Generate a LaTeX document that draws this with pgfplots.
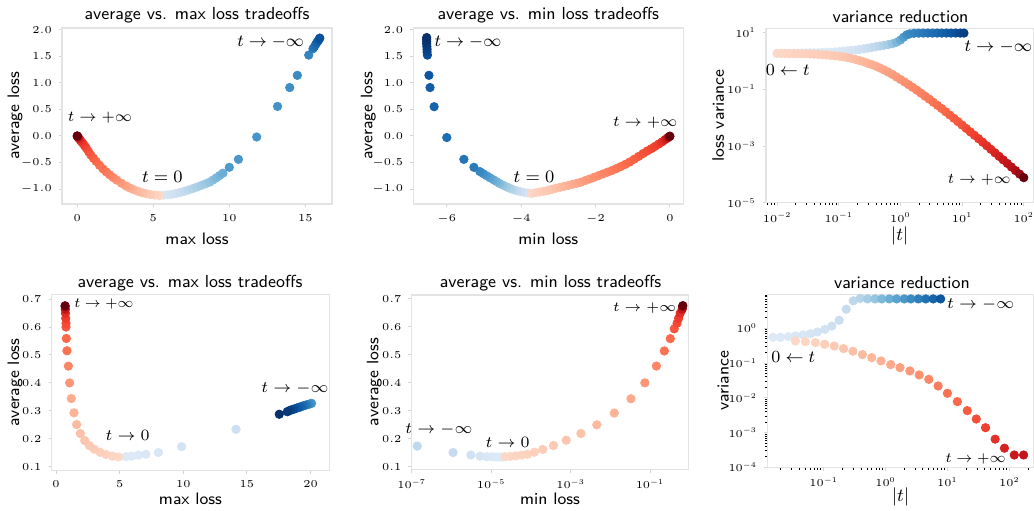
\RequirePackage{fix-cm}
\documentclass[border=0pt]{standalone}
\usepackage{pgfplots}
\usepackage{pgfplotstable}
\pgfplotsset{compat=1.18}

% one colormap: 0..7 Blues (dark -> light), 8..15 Reds (light -> dark)
\pgfplotsset{
  colormap={tilt}{rgb255=(8,48,107) rgb255=(8,81,156) rgb255=(33,113,181) rgb255=(66,146,198)
    rgb255=(107,174,214) rgb255=(158,202,225) rgb255=(198,219,239) rgb255=(221,234,246)
    rgb255=(253,216,199) rgb255=(252,187,161) rgb255=(252,146,114) rgb255=(251,106,74)
    rgb255=(239,59,44) rgb255=(203,24,29) rgb255=(165,15,21) rgb255=(103,0,13)},
  panel/.style={
    scale only axis, anchor=south west,
    colormap name=tilt, point meta min=0, point meta max=15,
    axis line style={draw=gray!22, line width=0.6pt},
    tick align=outside, tick pos=left,
    major tick length=1.6pt, minor tick length=1.1pt,
    major tick style={draw=gray!35, line width=0.5pt},
    minor tick style={draw=black, line width=0.4pt},
    tick label style={font=\fontsize{5.3}{6}\selectfont},
    every axis label/.append style={font=\sffamily\fontsize{8.3}{10}\selectfont},
    title style={font=\sffamily\fontsize{8.7}{10}\selectfont, anchor=center, yshift=-6pt},
  },
  onedec/.style={/pgf/number format/.cd, fixed, fixed zerofill, precision=1},
  dots/.style={scatter, only marks, mark=*, mark size=2.1pt, point meta=explicit,
    mark options={line width=0.4pt},
    scatter/use mapped color={draw=mapped color, fill=mapped color}},
}

% ---------------- panel 1: average vs max loss
\pgfplotstableread{
x y m
5.40 -1.120 8.0
5.10 -1.112 8.2
4.80 -1.100 8.4
4.55 -1.087 8.6
4.30 -1.070 8.8
4.00 -1.042 9.0
3.70 -1.010 9.2
3.45 -0.977 9.4
3.20 -0.940 9.6
2.90 -0.888 9.8
2.60 -0.830 10.0
2.36 -0.782 10.2
2.13 -0.730 10.4
1.91 -0.677 10.55
1.70 -0.620 10.7
1.47 -0.552 10.85
1.25 -0.480 11.0
1.07 -0.421 11.15
0.90 -0.360 11.3
0.75 -0.297 11.45
0.60 -0.230 11.6
0.50 -0.190 11.75
0.40 -0.150 11.9
0.30 -0.115 12.1
0.20 -0.080 12.3
0.12 -0.050 12.7
0.06 -0.025 13.3
0.03 -0.012 14.0
0.01 -0.004 14.6
0.00 0.000 15.0
}\tabAr
\pgfplotstableread{
x y m
5.41 -1.120 7.0
5.68 -1.115 6.85
5.95 -1.108 6.7
6.22 -1.097 6.55
6.50 -1.080 6.4
6.78 -1.062 6.2
7.05 -1.040 6.0
7.32 -1.016 5.8
7.60 -0.990 5.6
7.88 -0.962 5.4
8.15 -0.932 5.2
8.42 -0.902 5.0
8.70 -0.870 4.8
8.92 -0.830 4.6
9.14 -0.790 4.4
9.36 -0.745 4.2
9.58 -0.700 4.0
10.00 -0.590 3.3
10.60 -0.440 3.2
11.80 -0.020 3.1
13.17 0.555 3.0
13.97 0.910 2.9
14.47 1.140 2.8
15.22 1.520 2.6
15.50 1.640 2.2
15.60 1.680 2.0
15.68 1.720 1.8
15.76 1.760 1.6
15.84 1.790 1.4
15.90 1.820 1.2
15.95 1.840 1.0
}\tabAb

% ---------------- panel 2: average vs min loss
\pgfplotstableread{
x y m
-3.72 -1.080 8.0
-3.61 -1.067 8.13
-3.50 -1.054 8.27
-3.39 -1.040 8.4
-3.28 -1.023 8.53
-3.17 -1.004 8.67
-3.06 -0.982 8.8
-2.95 -0.965 8.93
-2.84 -0.947 9.07
-2.73 -0.930 9.2
-2.62 -0.910 9.33
-2.51 -0.891 9.47
-2.40 -0.870 9.6
-2.28 -0.840 9.73
-2.16 -0.810 9.87
-2.04 -0.778 10.0
-1.92 -0.747 10.13
-1.80 -0.714 10.27
-1.68 -0.682 10.4
-1.56 -0.650 10.53
-1.44 -0.615 10.67
-1.32 -0.576 10.8
-1.20 -0.535 10.93
-1.08 -0.490 11.07
-0.96 -0.438 11.2
-0.84 -0.385 11.33
-0.72 -0.330 11.47
-0.61 -0.282 11.6
-0.50 -0.240 11.73
-0.40 -0.197 11.87
-0.30 -0.152 12.0
-0.21 -0.112 12.3
-0.13 -0.070 12.7
-0.07 -0.040 13.2
-0.03 -0.020 13.8
-0.01 -0.010 14.4
0.00 -0.005 15.0
}\tabBr
\pgfplotstableread{
x y m
-3.72 -1.080 7.0
-3.82 -1.072 6.8
-3.92 -1.062 6.6
-4.02 -1.048 6.3
-4.12 -1.030 6.0
-4.22 -1.008 5.7
-4.31 -0.983 5.4
-4.40 -0.955 5.1
-4.49 -0.925 4.8
-4.58 -0.893 4.5
-4.66 -0.860 4.2
-4.75 -0.822 3.9
-4.84 -0.785 3.6
-4.93 -0.748 3.3
-5.02 -0.710 3.0
-5.11 -0.670 2.7
-5.27 -0.590 2.3
-5.54 -0.440 2.1
-6.00 -0.030 1.9
-6.34 0.550 1.6
-6.45 0.910 1.4
-6.48 1.140 1.2
-6.52 1.520 0.9
-6.53 1.580 0.7
-6.53 1.630 0.55
-6.535 1.680 0.4
-6.54 1.730 0.3
-6.54 1.770 0.2
-6.54 1.810 0.1
-6.54 1.850 0.0
}\tabBb

% ---------------- panel 3: loss variance vs |t|
\pgfplotstableread{
t v m
0.01 1.862 8.0
0.01166 1.858 8.03
0.01359 1.854 8.07
0.01585 1.845 8.1
0.01848 1.837 8.13
0.02154 1.824 8.17
0.02512 1.811 8.2
0.02929 1.799 8.23
0.03415 1.778 8.27
0.03981 1.750 8.3
0.04642 1.718 8.33
0.05412 1.679 8.37
0.06310 1.633 8.4
0.07356 1.581 8.43
0.08577 1.531 8.47
0.1 1.479 8.5
0.1166 1.406 8.59
0.1359 1.324 8.69
0.1585 1.236 8.78
0.1848 1.143 8.87
0.2154 1.042 8.97
0.2512 0.940 9.06
0.2929 0.841 9.15
0.3415 0.750 9.25
0.3981 0.661 9.34
0.4642 0.569 9.43
0.5412 0.484 9.53
0.6310 0.407 9.62
0.7356 0.339 9.71
0.8577 0.275 9.81
1 0.224 9.9
1.166 0.182 10.0
1.359 0.146 10.1
1.585 0.1175 10.2
1.848 0.0933 10.3
2.154 0.0733 10.4
2.512 0.0575 10.5
2.929 0.0452 10.6
3.415 0.0351 10.75
3.981 0.0272 10.85
4.642 0.02113 10.95
5.412 0.01622 11.05
6.310 0.01245 11.15
7.356 0.00955 11.25
8.577 0.00724 11.35
10 0.00550 11.5
11.66 0.00417 11.63
13.59 0.00316 11.77
15.85 0.00240 11.9
18.48 0.00182 12.03
21.54 0.001365 12.17
25.12 0.001023 12.3
29.29 7.67e-4 12.43
34.15 5.75e-4 12.6
39.81 4.32e-4 12.8
46.42 3.24e-4 13.0
54.12 2.43e-4 13.25
63.10 1.82e-4 13.5
73.56 1.365e-4 13.8
85.77 1.023e-4 14.2
100 7.67e-5 15.0
}\tabCr
\pgfplotstableread{
t v m
0.01 1.862 7.0
0.01166 1.871 7.0
0.01359 1.879 7.0
0.01585 1.888 7.0
0.01848 1.897 7.0
0.02154 1.905 7.0
0.02512 1.919 7.0
0.02929 1.932 7.0
0.03415 1.945 7.0
0.03981 1.963 7.0
0.04642 1.982 6.98
0.05412 2.004 6.96
0.06310 2.028 6.94
0.07356 2.056 6.92
0.08577 2.089 6.9
0.1 2.138 6.85
0.1166 2.213 6.8
0.1359 2.291 6.75
0.1585 2.371 6.7
0.1848 2.455 6.6
0.2154 2.570 6.5
0.2512 2.692 6.4
0.2929 2.851 6.25
0.3415 3.020 6.1
0.3981 3.199 5.9
0.4642 3.388 5.7
0.5412 3.589 5.45
0.6310 3.802 5.2
0.7356 4.074 4.85
0.8577 4.571 4.4
1 5.495 3.9
1.122 6.918 3.4
1.259 8.318 3.0
1.413 9.120 2.8
1.660 9.55 2.6
1.972 9.66 2.45
2.344 9.7 2.3
2.786 9.7 2.1
3.311 9.7 1.95
3.936 9.7 1.8
4.677 9.7 1.6
5.559 9.7 1.4
6.607 9.7 1.2
7.852 9.7 1.0
9.333 9.7 0.75
10.72 9.7 0.5
}\tabCb

% ---------------- panel 4: average vs max loss (second setting)
\pgfplotstableread{
x y m
4.90 0.135 8.0
4.42 0.138 8.1
3.93 0.144 8.2
3.46 0.152 8.3
3.01 0.163 8.4
2.62 0.176 8.5
2.25 0.194 8.65
1.91 0.219 8.8
1.62 0.251 9.0
1.41 0.293 9.2
1.20 0.344 9.4
1.07 0.400 9.9
0.97 0.460 10.3
0.86 0.515 10.8
0.81 0.559 11.0
0.785 0.600 11.4
0.785 0.613 11.7
0.76 0.631 12.0
0.74 0.649 12.4
0.73 0.663 13.2
0.72 0.673 14.0
0.71 0.676 15.0
}\tabDr
\pgfplotstableread{
x y m
5.50 0.136 7.0
5.94 0.138 6.95
6.47 0.142 6.9
7.07 0.145 6.85
8.04 0.151 6.8
9.87 0.172 6.6
14.14 0.234 6.3
20.08 0.327 3.2
19.95 0.325 2.9
19.80 0.323 2.6
19.65 0.321 2.3
19.50 0.319 2.0
19.35 0.317 1.8
19.20 0.314 1.6
19.05 0.312 1.4
18.90 0.310 1.2
18.75 0.307 1.0
18.60 0.305 0.8
18.45 0.303 0.6
18.30 0.300 0.45
18.17 0.297 0.3
17.54 0.288 0.0
}\tabDb

% ---------------- panel 5: average vs min loss (second setting)
\pgfplotstableread{
x y m
2.24e-5 0.136 8.0
3.02e-5 0.137 8.05
4.17e-5 0.139 8.1
5.89e-5 0.142 8.15
8.32e-5 0.145 8.2
1.23e-4 0.152 8.3
2.0e-4 0.162 8.4
3.72e-4 0.176 8.5
7.76e-4 0.195 8.65
1.82e-3 0.219 8.8
4.57e-3 0.250 9.0
0.0126 0.292 9.2
0.0331 0.343 9.4
0.0741 0.400 9.9
0.145 0.460 10.3
0.229 0.514 10.8
0.324 0.558 11.0
0.407 0.593 11.4
0.479 0.613 11.7
0.525 0.631 12.0
0.575 0.649 12.4
0.646 0.663 13.2
0.661 0.673 14.0
0.670 0.676 15.0
}\tabEr
\pgfplotstableread{
x y m
1.95e-5 0.135 7.0
1.62e-5 0.135 7.0
1.35e-5 0.135 6.95
1.05e-5 0.136 6.9
7.76e-6 0.136 6.85
5.25e-6 0.138 6.7
3.09e-6 0.142 6.5
1.10e-6 0.151 6.0
1.38e-7 0.174 5.8
}\tabEb

% ---------------- panel 6: variance vs |t|
\pgfplotstableread{
t v m
0.0351 0.431 8.0
0.0507 0.413 8.1
0.0735 0.387 8.2
0.1038 0.347 8.35
0.1483 0.309 8.5
0.2099 0.260 8.65
0.2965 0.218 8.8
0.4236 0.175 8.95
0.5984 0.143 9.1
0.8453 0.115 9.25
1.211 0.090 9.45
1.710 0.0738 9.65
2.472 0.0592 9.85
3.491 0.0454 10.05
5.000 0.0340 10.3
7.063 0.0219 10.55
9.98 0.0135 10.8
14.45 0.00776 11.05
20.9 0.00427 11.3
29.2 0.00245 11.6
41.2 0.00138 11.9
58.9 6.46e-4 12.3
83.2 3.55e-4 12.7
120.2 2.26e-4 13.0
169.8 2.26e-4 13.2
}\tabFr
\pgfplotstableread{
t v m
0.0151 0.550 7.0
0.0200 0.550 6.95
0.0269 0.575 6.9
0.0351 0.603 6.85
0.0468 0.646 6.8
0.0617 0.700 6.7
0.0794 0.783 6.6
0.105 0.933 6.5
0.136 1.16 6.35
0.178 1.70 6.2
0.232 3.55 6.0
0.302 6.17 5.8
0.389 7.24 5.6
0.513 7.0 5.2
0.676 7.0 4.8
0.871 7.0 4.4
1.15 7.0 4.0
1.51 7.0 3.6
2.00 7.0 3.2
2.57 7.0 2.8
3.39 7.0 2.4
4.47 7.0 2.0
5.89 7.0 1.6
7.76 7.0 1.2
}\tabFb

\begin{document}
\begin{tikzpicture}
\path[use as bounding box] (0,0) rectangle (517pt,255pt);

% ---------- top left
\begin{axis}[panel, at={(31pt,153pt)}, width=135pt, height=88pt,
  xmin=-1.0, xmax=16.75, ymin=-1.28, ymax=2.03,
  xtick={0,5,10,15}, ytick={-1,-0.5,0,0.5,1,1.5,2},
  yticklabel style={onedec},
  title={average vs. max loss tradeoffs}, xlabel={max loss}, ylabel={average loss},
  title style={at={(axis description cs:0.5,1.074)}},
  xlabel style={at={(axis description cs:0.5,-0.195)}, anchor=center},
  ylabel style={at={(axis description cs:-0.174,0.5)}, anchor=center}]
\addplot[dots] table[x=x, y=y, meta=m] {\tabAb};
\addplot[dots] table[x=x, y=y, meta=m] {\tabAr};
\end{axis}

% ---------- top middle
\begin{axis}[panel, at={(206.65pt,153pt)}, width=135pt, height=88pt,
  xmin=-6.9, xmax=0.36, ymin=-1.28, ymax=2.03,
  xtick={-6,-4,-2,0}, ytick={-1,-0.5,0,0.5,1,1.5,2},
  yticklabel style={onedec},
  title={average vs. min loss tradeoffs}, xlabel={min loss}, ylabel={average loss},
  title style={at={(axis description cs:0.5,1.074)}},
  xlabel style={at={(axis description cs:0.5,-0.195)}, anchor=center},
  ylabel style={at={(axis description cs:-0.167,0.5)}, anchor=center}]
\addplot[dots] table[x=x, y=y, meta=m] {\tabBb};
\addplot[dots] table[x=x, y=y, meta=m] {\tabBr};
\end{axis}

% ---------- top right
\begin{axis}[panel, at={(383pt,153.65pt)}, width=133.75pt, height=87.2pt,
  xmode=log, ymode=log,
  xmin=0.0066, xmax=144, ymin=1e-5, ymax=14.3,
  xtick={0.01,0.1,1,10,100},
  minor xtick={0.007,0.008,0.009,0.02,0.03,0.04,0.05,0.06,0.07,0.08,0.09,
    0.2,0.3,0.4,0.5,0.6,0.7,0.8,0.9,2,3,4,5,6,7,8,9,20,30,40,50,60,70,80,90},
  ytick={1e-5,1e-3,1e-1,10}, yminorticks=false,
  title={variance reduction}, xlabel={$|t|$}, ylabel={loss variance},
  title style={at={(axis description cs:0.503,1.07)}},
  xlabel style={at={(axis description cs:0.5,-0.191)}, anchor=center,
    font=\fontsize{9.2}{11}\selectfont},
  ylabel style={at={(axis description cs:-0.179,0.5)}, anchor=center}]
\addplot[dots] table[x=t, y=v, meta=m] {\tabCb};
\addplot[dots] table[x=t, y=v, meta=m] {\tabCr};
\end{axis}

% ---------- bottom left
\begin{axis}[panel, at={(25.85pt,19.65pt)}, width=138.8pt, height=88.2pt,
  xmin=-0.34, xmax=21.47, ymin=0.086, ymax=0.717,
  xtick={0,5,10,15,20}, ytick={0.1,0.2,0.3,0.4,0.5,0.6,0.7},
  yticklabel style={onedec},
  title={average vs. max loss tradeoffs}, xlabel={max loss}, ylabel={average loss},
  title style={at={(axis description cs:0.498,1.062)}},
  xlabel style={at={(axis description cs:0.5,-0.157)}, anchor=center},
  ylabel style={at={(axis description cs:-0.132,0.5)}, anchor=center}]
\addplot[dots] table[x=x, y=y, meta=m] {\tabDb};
\addplot[dots] table[x=x, y=y, meta=m] {\tabDr};
\end{axis}

% ---------- bottom middle
\begin{axis}[panel, at={(205.85pt,20.35pt)}, width=138.3pt, height=87.15pt,
  xmode=log, xmin=1e-7, xmax=0.92, ymin=0.091, ymax=0.714,
  xtick={1e-7,1e-5,1e-3,1e-1}, xminorticks=false,
  ytick={0.1,0.2,0.3,0.4,0.5,0.6,0.7},
  yticklabel style={onedec},
  title={average vs. min loss tradeoffs}, xlabel={min loss}, ylabel={average loss},
  title style={at={(axis description cs:0.502,1.067)}},
  xlabel style={at={(axis description cs:0.5,-0.172)}, anchor=center},
  ylabel style={at={(axis description cs:-0.135,0.5)}, anchor=center}]
\addplot[dots] table[x=x, y=y, meta=m] {\tabEb};
\addplot[dots] table[x=x, y=y, meta=m] {\tabEr};
\end{axis}

% ---------- bottom right
\begin{axis}[panel, at={(383.65pt,21.35pt)}, width=133.35pt, height=86.5pt,
  xmode=log, ymode=log,
  xmin=0.0123, xmax=250, ymin=1e-4, ymax=9.5,
  xtick={0.1,1,10,100},
  minor xtick={0.02,0.03,0.04,0.05,0.06,0.07,0.08,0.09,0.2,0.3,0.4,0.5,0.6,0.7,0.8,0.9,
    2,3,4,5,6,7,8,9,20,30,40,50,60,70,80,90,200},
  ytick={1e-4,1e-3,1e-2,1e-1,1},
  minor ytick={2e-4,3e-4,4e-4,5e-4,6e-4,7e-4,8e-4,9e-4,2e-3,3e-3,4e-3,5e-3,6e-3,7e-3,8e-3,9e-3,
    0.02,0.03,0.04,0.05,0.06,0.07,0.08,0.09,0.2,0.3,0.4,0.5,0.6,0.7,0.8,0.9,2,3,4,5,6,7,8,9},
  title={variance reduction}, xlabel={$|t|$}, ylabel={variance},
  title style={at={(axis description cs:0.505,1.067)}},
  xlabel style={at={(axis description cs:0.5,-0.172)}, anchor=center,
    font=\fontsize{9.2}{11}\selectfont},
  ylabel style={at={(axis description cs:-0.165,0.5)}, anchor=center}]
\addplot[dots] table[x=t, y=v, meta=m] {\tabFb};
\addplot[dots] table[x=t, y=v, meta=m] {\tabFr};
\end{axis}

% ---------- annotations
\begin{scope}[every node/.style={inner sep=0pt}]
\node[font=\fontsize{7.6}{9}\selectfont] at (50pt,196.35pt) {$t\to+\infty$};
\node[font=\fontsize{8.7}{10}\selectfont] at (81.15pt,166.65pt) {$t=0$};
\node[font=\fontsize{8.5}{10}\selectfont] at (135.35pt,234.15pt) {$t\to-\infty$};
\node[font=\fontsize{8.5}{10}\selectfont] at (234pt,234.15pt) {$t\to-\infty$};
\node[font=\fontsize{7.6}{9}\selectfont] at (322.65pt,193.85pt) {$t\to+\infty$};
\node[font=\fontsize{8.7}{10}\selectfont] at (267pt,166.65pt) {$t=0$};
\node[font=\fontsize{8.5}{10}\selectfont] at (393.85pt,220pt) {$0\leftarrow t$};
\node[font=\fontsize{8.6}{10}\selectfont] at (499.15pt,231.65pt) {$t\to-\infty$};
\node[font=\fontsize{7.4}{9}\selectfont] at (489.65pt,165pt) {$t\to+\infty$};
\node[font=\fontsize{7.0}{8}\selectfont] at (52pt,103pt) {$t\to+\infty$};
\node[font=\fontsize{7.9}{9}\selectfont] at (63.85pt,37.5pt) {$t\to0$};
\node[font=\fontsize{7.9}{9}\selectfont] at (147.5pt,60.85pt) {$t\to-\infty$};
\node[font=\fontsize{6.9}{8}\selectfont] at (322.35pt,100.85pt) {$t\to+\infty$};
\node[font=\fontsize{7.9}{9}\selectfont] at (219.5pt,40.35pt) {$t\to-\infty$};
\node[font=\fontsize{7.9}{9}\selectfont] at (253.85pt,33.65pt) {$t\to0$};
\node[font=\fontsize{7.9}{9}\selectfont] at (490.35pt,102.85pt) {$t\to-\infty$};
\node[font=\fontsize{8.5}{10}\selectfont] at (396.65pt,76.35pt) {$0\leftarrow t$};
\node[font=\fontsize{7.1}{8}\selectfont] at (487.85pt,25.35pt) {$t\to+\infty$};
\end{scope}
\end{tikzpicture}
\end{document}
